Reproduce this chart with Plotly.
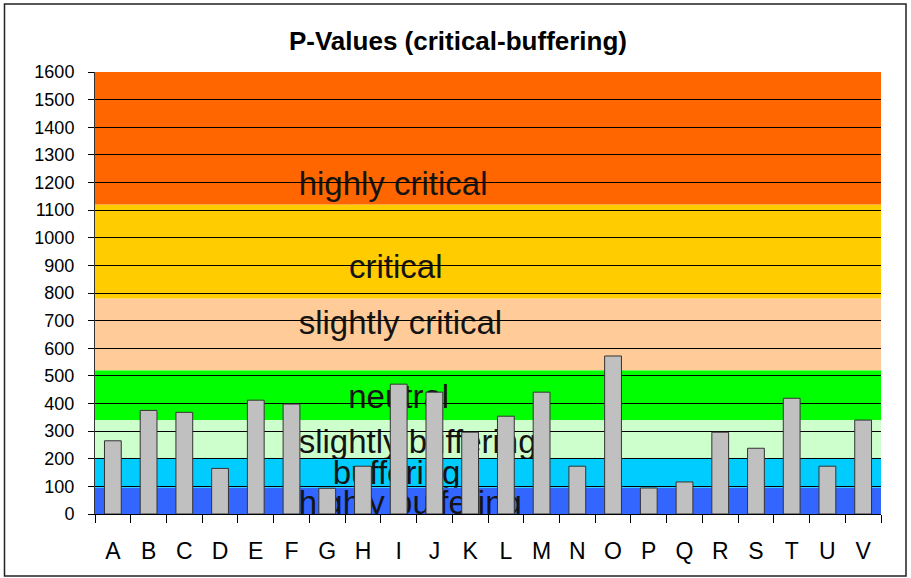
import plotly.graph_objects as go

# ---------------- data ----------------
categories = list("ABCDEFGHIJKLMNOPQRSTUV")
p_values = [265, 375, 368, 165, 412, 398, 93, 173, 470, 441, 296,
            354, 441, 173, 572, 94, 116, 296, 238, 419, 173, 340]

band_labels = ["highly buffering", "buffering", "slightly buffering", "neutral",
               "slightly critical", "critical", "highly critical"]
band_edges = [0, 95, 200, 340, 520, 780, 1120, 1600]
y_ticks = list(range(0, 1601, 100))

# ---------------- styles / placement ----------------
band_colors = ["#3366FF", "#00CCFF", "#CCFFCC", "#00FF00", "#FFCC99", "#FFCC00", "#FF6600"]
label_x = [5.2, 7.94, 5.2, 8.0, 5.2, 7.92, 5.2]
label_y = [30, 138, 252, 414, 682, 884, 1186]
label_anchor = ["middle right", "middle center", "middle right", "middle center",
                "middle right", "middle center", "middle right"]

W, H = 911, 578
ML, MR, MT, MB = 95, 30, 72, 64
PW, PH = W - ML - MR, H - MT - MB
FONT = "Liberation Sans, Arial, sans-serif"

n = len(categories)
xr = [-0.5, n - 0.5]
ymax = y_ticks[-1]

fig = go.Figure()
# empty trace so the main (axis) subplot exists
fig.add_trace(go.Scatter(x=[], y=[], xaxis="x", yaxis="y", showlegend=False))

layout = {}
# band labels, each on its own subplot clipped to its band
for i, lab in enumerate(band_labels):
    k = i + 2
    lo, hi = band_edges[i], band_edges[i + 1]
    layout[f"xaxis{k}"] = dict(domain=[0, 1], range=xr, visible=False, anchor=f"y{k}",
                               automargin=False)
    layout[f"yaxis{k}"] = dict(domain=[lo / ymax, hi / ymax], range=[lo, hi],
                               visible=False, anchor=f"x{k}", automargin=False)
    fig.add_trace(go.Scatter(
        x=[label_x[i]], y=[label_y[i]], text=[lab], mode="text",
        textposition=label_anchor[i], cliponaxis=True,
        textfont=dict(family=FONT, size=33, color="#141414"),
        hoverinfo="skip", showlegend=False,
        xaxis=f"x{k}", yaxis=f"y{k}"))

# bars on top subplot (with the grid)
kb = len(band_labels) + 2
layout[f"xaxis{kb}"] = dict(domain=[0, 1], range=xr, visible=False, anchor=f"y{kb}",
                            automargin=False)
layout[f"yaxis{kb}"] = dict(domain=[0, 1], range=[0, ymax], tickmode="array",
                            tickvals=y_ticks[1:-1], showgrid=True, gridcolor="black",
                            gridwidth=1, showticklabels=False, ticks="",
                            showline=False, zeroline=False, anchor=f"x{kb}",
                            automargin=False)
fig.add_trace(go.Bar(
    x=list(range(n)), y=p_values, width=0.47,
    marker=dict(color="#C0C0C0", line=dict(color="#333333", width=1)),
    hovertext=categories, showlegend=False,
    xaxis=f"x{kb}", yaxis=f"y{kb}"))

shapes = []
for i in range(len(band_labels)):
    shapes.append(dict(type="rect", xref="x domain", yref="y", x0=0, x1=1,
                       y0=band_edges[i], y1=band_edges[i + 1],
                       fillcolor=band_colors[i], line=dict(width=0), layer="below"))
# outer chart border
bx0, bx1, by0, by1 = 4.5, 906, 4, 576
shapes.append(dict(type="rect", xref="paper", yref="paper",
                   x0=(bx0 - ML) / PW, x1=(bx1 - ML) / PW,
                   y0=(H - MB - by1) / PH, y1=(H - MB - by0) / PH,
                   line=dict(color="#222222", width=1.5), fillcolor="rgba(0,0,0,0)",
                   layer="above"))

fig.update_layout(
    width=W, height=H,
    margin=dict(l=ML, r=MR, t=MT, b=MB, pad=0, autoexpand=False),
    paper_bgcolor="white", plot_bgcolor="rgba(0,0,0,0)",
    font=dict(family=FONT, color="black"),
    showlegend=False,
    title=dict(text="<b>P-Values (critical-buffering)</b>", x=458 / W, xanchor="center",
               y=1 - 41 / H, yanchor="middle", yref="container", automargin=False,
               font=dict(family=FONT, size=26, color="black")),
    xaxis=dict(range=xr, tickmode="array", tickvals=list(range(n)), ticktext=categories,
               ticks="", showline=True, linecolor="black", linewidth=1,
               showgrid=False, zeroline=False, tickfont=dict(size=23, color="black"),
               ticklabelstandoff=16, anchor="y", automargin=False,
               minor=dict(ticks="outside", ticklen=8, tickcolor="black", tickwidth=1,
                          tick0=-0.5, dtick=1, showgrid=False)),
    yaxis=dict(range=[0, ymax], tickmode="array", tickvals=y_ticks,
               ticks="outside", ticklen=6, tickcolor="black", tickwidth=1,
               showline=True, linecolor="#333333", linewidth=1,
               showgrid=False, zeroline=False, tickfont=dict(size=18, color="black"),
               ticklabelstandoff=10, anchor="x", automargin=False),
    shapes=shapes,
    **layout,
)

fig.write_html("out.html",
               config={"displayModeBar": False},
               post_script="document.body.style.margin='0';"
                           "document.body.style.overflow='hidden';")
